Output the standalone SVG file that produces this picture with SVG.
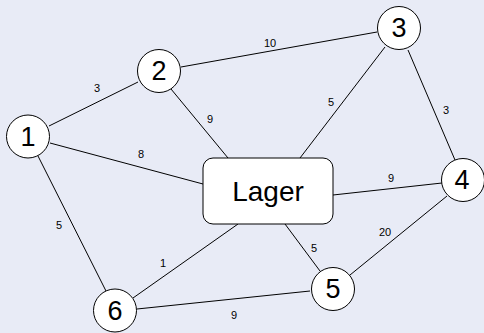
<svg xmlns="http://www.w3.org/2000/svg" width="484" height="333" viewBox="0 0 484 333">
<style>
.bg{fill:#e8ebf6}
.e{stroke:#000;stroke-width:1;fill:none}
.n{fill:#fff;stroke:#000;stroke-width:1}
.t{font-family:"Liberation Sans",Arial,sans-serif;font-size:27px;text-anchor:middle;dominant-baseline:central;fill:#000}
.L{font-size:28px}
.w{font-family:"Liberation Sans",Arial,sans-serif;font-size:11px;text-anchor:middle;dominant-baseline:central;fill:#000}
</style>
<rect class="bg" x="0" y="0" width="484" height="333"/>
<g id="connectors">
<line class="e" x1="49" y1="126" x2="138" y2="82"/>
<line class="e" x1="181" y1="67" x2="377" y2="32"/>
<line class="e" x1="171" y1="89" x2="228" y2="158"/>
<line class="e" x1="50" y1="143" x2="203" y2="184"/>
<line class="e" x1="385" y1="47" x2="300" y2="158"/>
<line class="e" x1="408" y1="50" x2="455" y2="160"/>
<line class="e" x1="333" y1="195" x2="442" y2="183"/>
<line class="e" x1="447" y1="196" x2="350" y2="275"/>
<line class="e" x1="285" y1="224" x2="320" y2="271"/>
<line class="e" x1="38" y1="156" x2="106" y2="291"/>
<line class="e" x1="133" y1="298" x2="238" y2="224"/>
<line class="e" x1="137" y1="309" x2="310" y2="291"/>
<text class="w" x="97" y="88">3</text>
<text class="w" x="210" y="119">9</text>
<text class="w" x="141" y="154">8</text>
<text class="w" x="270" y="43">10</text>
<text class="w" x="331" y="102">5</text>
<text class="w" x="446" y="110">3</text>
<text class="w" x="391" y="178">9</text>
<text class="w" x="385" y="232">20</text>
<text class="w" x="314" y="248">5</text>
<text class="w" x="59" y="225">5</text>
<text class="w" x="163" y="263">1</text>
<text class="w" x="234" y="315">9</text>
</g>
<g id="lager"><rect class="n" x="203" y="158" width="130" height="66" rx="10"/><text class="t L" x="268" y="191">Lager</text></g>
<g id="n1"><circle class="n" cx="28" cy="136.5" r="21.5"/><text class="t" x="28" y="137">1</text></g>
<g id="n2"><circle class="n" cx="159" cy="71" r="21.5"/><text class="t" x="159" y="70.5">2</text></g>
<g id="n3"><circle class="n" cx="399" cy="28" r="21.5"/><text class="t" x="399" y="28">3</text></g>
<g id="n4"><circle class="n" cx="463" cy="180" r="21.5"/><text class="t" x="462" y="180">4</text></g>
<g id="n5"><circle class="n" cx="333" cy="289" r="21.5"/><text class="t" x="333" y="289">5</text></g>
<g id="n6"><circle class="n" cx="115" cy="310.5" r="21.5"/><text class="t" x="115" y="311">6</text></g>
</svg>
